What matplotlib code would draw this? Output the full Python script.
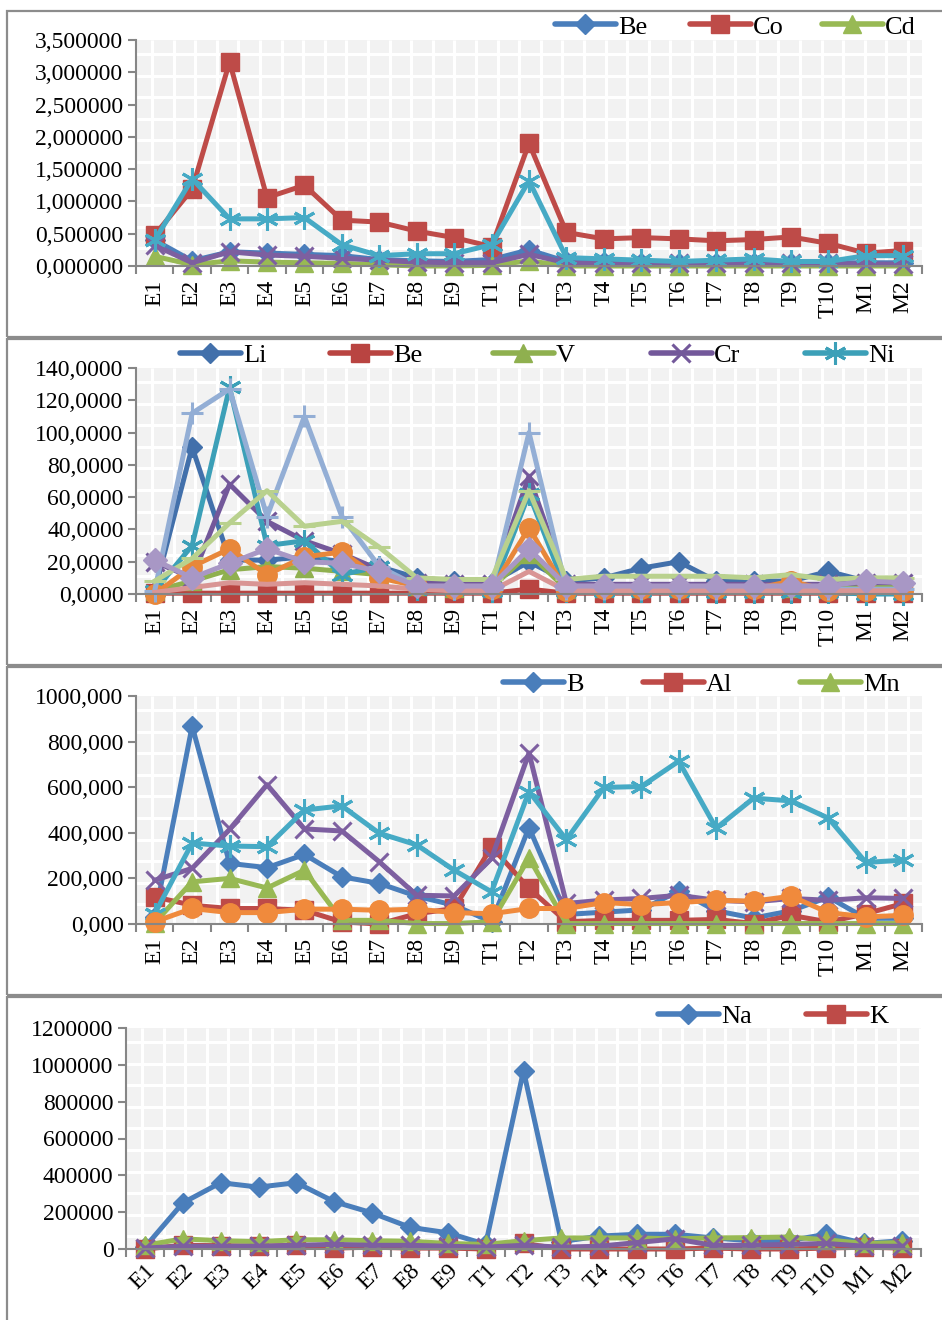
import matplotlib
matplotlib.use('Agg')
import matplotlib.pyplot as plt
from matplotlib.collections import LineCollection
from matplotlib.patches import Rectangle
from matplotlib.lines import Line2D
from matplotlib.ticker import FuncFormatter

plt.rcParams['font.family'] = ['Liberation Serif', 'DejaVu Serif']

cats = ['E1', 'E2', 'E3', 'E4', 'E5', 'E6', 'E7', 'E8', 'E9', 'T1', 'T2',
        'T3', 'T4', 'T5', 'T6', 'T7', 'T8', 'T9', 'T10', 'M1', 'M2']

# panel 1
be_1 = [0.40, 0.08, 0.22, 0.20, 0.18, 0.16, 0.10, 0.08, 0.07, 0.10, 0.25,
        0.07, 0.06, 0.05, 0.05, 0.05, 0.05, 0.05, 0.05, 0.05, 0.05]
co_1 = [0.48, 1.19, 3.16, 1.06, 1.25, 0.71, 0.68, 0.54, 0.44, 0.30, 1.90,
        0.52, 0.42, 0.44, 0.42, 0.39, 0.41, 0.45, 0.35, 0.20, 0.24]
cd_1 = [0.15, 0.02, 0.08, 0.06, 0.05, 0.04, 0.02, 0.00, 0.00, 0.01, 0.08,
        0.00, 0.00, 0.00, 0.00, 0.00, 0.00, 0.00, 0.00, 0.00, 0.00]
s4_1 = [0.32, 0.05, 0.22, 0.17, 0.15, 0.12, 0.09, 0.06, 0.05, 0.05, 0.18,
        0.05, 0.04, 0.04, 0.04, 0.04, 0.04, 0.04, 0.04, 0.03, 0.03]
s5_1 = [0.40, 1.35, 0.73, 0.73, 0.75, 0.33, 0.16, 0.19, 0.19, 0.33, 1.32,
        0.13, 0.11, 0.09, 0.07, 0.09, 0.11, 0.07, 0.07, 0.16, 0.16]

# panel 2
li_2 = [2, 91, 21, 21, 23, 20, 17, 10, 8, 7, 20,
        8, 10, 16, 20, 8, 8, 8, 14, 8, 7]
be_2 = [0.5, 0.5, 0.5, 0.5, 0.5, 0.5, 0.5, 0.5, 0.5, 0.5, 3,
        0.5, 0.5, 0.5, 0.5, 0.5, 0.5, 0.5, 0.5, 0.5, 0.5]
v_2 = [2, 8, 15, 17, 16, 14, 12, 5, 4, 4, 25,
       3, 4, 4, 4, 4, 4, 4, 4, 4, 4]
cr_2 = [20, 10, 68, 45, 33, 25, 15, 7, 6, 6, 73,
        6, 6, 6, 6, 6, 6, 6, 6, 7, 7]
ni_2 = [2, 30, 128, 30, 33, 12, 17, 3, 3, 2, 62,
        2, 2, 2, 2, 1, 1, 1, 1, 0, 0]
s6_2 = [0, 17, 28, 12, 23, 26, 10, 5, 3, 3, 41,
        2, 3, 3, 3, 3, 3, 8, 2, 2, 2]
s7_2 = [2, 112, 127, 48, 110, 48, 17, 5, 3, 3, 100,
        3, 3, 3, 3, 3, 3, 3, 3, 3, 3]
s8_2 = [8, 22, 44, 64, 42, 45, 29, 10, 9, 9, 64,
        9, 11, 11, 11, 11, 10, 12, 9, 10, 10]
s9_2 = [1, 4, 7, 6, 7, 6, 5, 3, 2, 2, 14,
        2, 2, 2, 2, 2, 2, 2, 2, 2, 2]
s10_2 = [21, 10, 19, 28, 20, 19, 14, 5, 5, 5, 28,
         5, 5, 5, 5, 5, 5, 5, 5, 8, 7]

# panel 3
b_3 = [30, 868, 266, 247, 305, 207, 178, 122, 82, 9, 423,
       42, 52, 62, 145, 58, 26, 58, 118, 25, 25]
al_3 = [119, 82, 68, 68, 60, 9, 0, 45, 68, 339, 156,
        10, 16, 16, 16, 20, 2, 38, 9, 45, 90]
mn_3 = [5, 185, 200, 158, 236, 16, 16, 2, 2, 10, 290,
        2, 2, 2, 2, 2, 2, 2, 2, 2, 2]
s4_3 = [192, 244, 415, 611, 417, 408, 273, 126, 123, 288, 750,
        90, 105, 112, 126, 104, 97, 112, 104, 115, 112]
s5_3 = [45, 355, 342, 339, 500, 518, 398, 347, 236, 141, 581,
        370, 599, 603, 714, 420, 552, 540, 464, 270, 280]
s6_3 = [10, 68, 50, 50, 65, 65, 60, 65, 50, 45, 68,
        68, 94, 85, 94, 104, 100, 122, 50, 31, 38]

# panel 4
na_4 = [10000, 250000, 360000, 336000, 360000, 257000, 196000, 118000, 88000, 25000, 968000,
        40000, 70000, 80000, 80000, 60000, 45000, 45000, 80000, 30000, 45000]
k_4 = [0, 20000, 18000, 15000, 20000, 5000, 10000, 5000, 5000, 0, 30000,
       0, 0, 0, 0, 5000, 0, 0, 5000, 10000, 5000]
s3_4 = [20000, 55000, 45000, 40000, 50000, 50000, 45000, 42000, 30000, 25000, 45000,
        60000, 60000, 60000, 55000, 60000, 62000, 65000, 50000, 30000, 35000]
s4_4 = [5000, 15000, 15000, 15000, 20000, 25000, 20000, 20000, 15000, 10000, 20000,
        10000, 15000, 35000, 55000, 20000, 20000, 25000, 30000, 15000, 15000]

BLUE, RED, GREEN, PURPLE, AQUA, ORANGE = '#4A7EBB', '#BE4B48', '#98B954', '#7D5FA0', '#46AAC5', '#F08A3C'
ASTER = (6, 2, 0)

W, H = 942, 1320
fig = plt.figure(figsize=(W / 100, H / 100), dpi=100)

GRAY = '#868686'
LINE_MARKERS = ('x', '+', ASTER, '_')


def make_axes(l, t, r, b):
    ax = fig.add_axes([l / W, 1 - b / H, (r - l) / W, (b - t) / H])
    ax.set_facecolor('#F2F2F2')
    # pattern fill of the plot area
    w_px, h_px = r - l, b - t
    step = 21.6
    segs = []
    x = 16.0
    while x < w_px:
        segs.append([(x / w_px, 0), (x / w_px, 1)])
        x += step
    y = 14.0
    while y < h_px:
        segs.append([(0, 1 - y / h_px), (1, 1 - y / h_px)])
        y += step
    ax.add_collection(LineCollection(segs, colors='white', linewidths=2.2,
                                     transform=ax.transAxes, zorder=0.5), autolim=False)
    for s in ['top', 'right']:
        ax.spines[s].set_visible(False)
    for s in ['left', 'bottom']:
        ax.spines[s].set_color(GRAY)
        ax.spines[s].set_linewidth(1.5)
    ax.set_xlim(-0.5, len(cats) - 0.5)
    ax.set_xticks(range(len(cats)))
    ax.set_xticks([i - 0.5 for i in range(len(cats) + 1)], minor=True)
    ax.tick_params(axis='x', which='major', length=0, labelsize=17, pad=10)
    ax.tick_params(axis='x', which='minor', length=6, width=1.5, color=GRAY, direction='out')
    ax.tick_params(axis='y', which='major', length=6, width=1.5, color=GRAY, direction='out',
                   labelsize=17, pad=3)
    return ax


def draw(ax, series):
    for i, (vals, color, marker, ms) in enumerate(series):
        mew = 2.2 if marker in LINE_MARKERS else 1.0
        ax.plot(range(len(cats)), vals, color=color, lw=3.6, marker=marker, ms=ms,
                mfc=color, mec=color, mew=mew, clip_on=False, zorder=2 + i * 0.01)


def legend(entries, y_px):
    for label, color, marker, ms, x_px in entries:
        mew = 2.2 if marker in LINE_MARKERS else 1.0
        h = Line2D([], [], color=color, lw=4, marker=marker, ms=ms, mfc=color, mec=color, mew=mew,
                   solid_capstyle='round')
        fig.legend(handles=[h], labels=[label], loc='center left',
                   bbox_to_anchor=(x_px / W, 1 - y_px / H), frameon=False, borderpad=0,
                   borderaxespad=0, handlelength=2.3, handletextpad=0.08, fontsize=19,
                   numpoints=1)


def frame(t, b):
    fig.add_artist(Rectangle((7 / W, 1 - b / H), 1.1, (b - t) / H, transform=fig.transFigure,
                             fill=False, ec='#8C8C8C', lw=1.6, clip_on=False))


frame(11, 337)
frame(339, 665)
frame(667, 995)
frame(997, 1330)

# ---- panel 1
ax1 = make_axes(136, 40, 922, 266)
draw(ax1, [(be_1, BLUE, 'D', 10), (co_1, RED, 's', 13), (cd_1, GREEN, '^', 13),
           (s4_1, PURPLE, 'x', 13), (s5_1, AQUA, ASTER, 16)])
ax1.set_ylim(0, 3.5)
ax1.set_yticks([i * 0.5 for i in range(8)])
ax1.yaxis.set_major_formatter(FuncFormatter(lambda v, p: f'{v:.6f}'.replace('.', ',')))
ax1.set_xticklabels(cats, rotation=90)
legend([('Be', BLUE, 'D', 10, 555), ('Co', RED, 's', 13, 690), ('Cd', GREEN, '^', 13, 822)], 27)

# ---- panel 2
ax2 = make_axes(136, 368, 922, 594)
draw(ax2, [(li_2, '#4270AB', 'D', 10), (be_2, '#B94441', 's', 13), (v_2, '#8FB04F', '^', 13),
           (cr_2, '#73589A', 'x', 13), (ni_2, '#3CA0B8', ASTER, 16), (s6_2, '#E8873A', 'o', 14),
           (s7_2, '#93AED5', '+', 16), (s8_2, '#B9D18E', '_', 16), (s9_2, '#D99594', None, 8),
           (s10_2, '#A897C5', 'D', 12)])
ax2.set_ylim(0, 140)
ax2.set_yticks(range(0, 141, 20))
ax2.yaxis.set_major_formatter(FuncFormatter(lambda v, p: f'{v:.4f}'.replace('.', ',')))
ax2.set_xticklabels(cats, rotation=90)
legend([('Li', '#4270AB', 'D', 10, 180), ('Be', '#B94441', 's', 13, 330), ('V', '#8FB04F', '^', 13, 493),
        ('Cr', '#73589A', 'x', 13, 651), ('Ni', '#3CA0B8', ASTER, 16, 805)], 355)

# ---- panel 3
ax3 = make_axes(136, 696, 922, 924)
draw(ax3, [(b_3, BLUE, 'D', 10), (al_3, RED, 's', 13), (mn_3, GREEN, '^', 13),
           (s4_3, PURPLE, 'x', 13), (s5_3, AQUA, ASTER, 16), (s6_3, ORANGE, 'o', 14)])
ax3.set_ylim(0, 1000)
ax3.set_yticks(range(0, 1001, 200))
ax3.yaxis.set_major_formatter(FuncFormatter(lambda v, p: f'{v:.3f}'.replace('.', ',')))
ax3.set_xticklabels(cats, rotation=90)
legend([('B', BLUE, 'D', 10, 503), ('Al', RED, 's', 13, 643), ('Mn', GREEN, '^', 13, 800)], 684)

# ---- panel 4
ax4 = make_axes(126, 1028, 921, 1249)
draw(ax4, [(na_4, BLUE, 'D', 10), (k_4, RED, 's', 13), (s3_4, GREEN, '^', 13),
           (s4_4, PURPLE, 'x', 13)])
ax4.set_ylim(0, 1200000)
ax4.set_yticks(range(0, 1200001, 200000))
ax4.yaxis.set_major_formatter(FuncFormatter(lambda v, p: f'{int(v)}'))
ax4.set_xticklabels(cats, rotation=45, ha='right', rotation_mode='anchor')
ax4.tick_params(axis='x', which='major', pad=8)
legend([('Na', BLUE, 'D', 10, 658), ('K', RED, 's', 13, 806)], 1016)

fig.savefig('out.png', dpi=100)
